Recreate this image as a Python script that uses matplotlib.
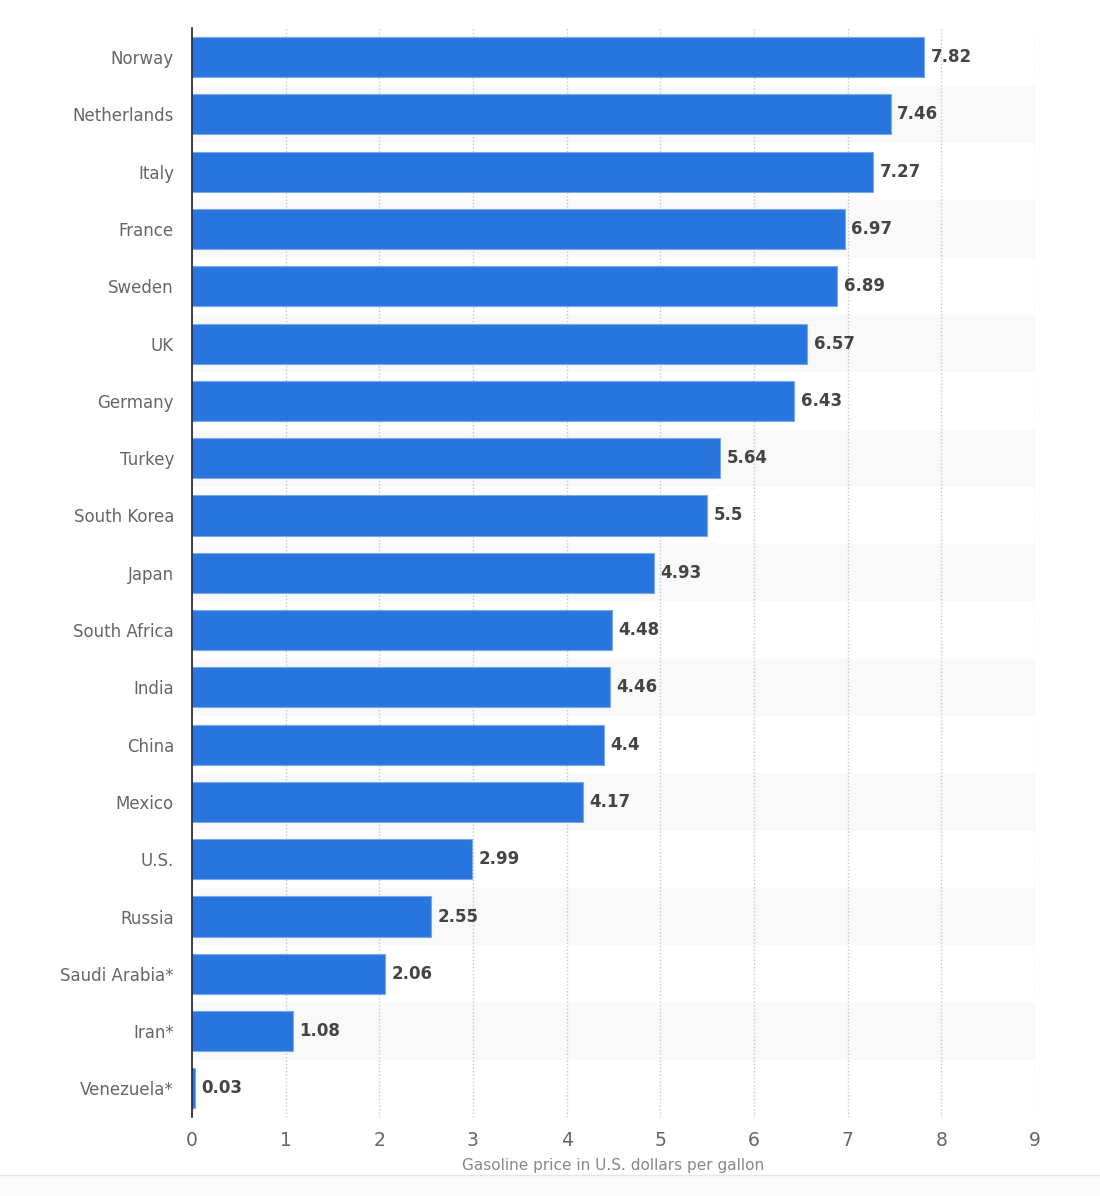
import matplotlib.pyplot as plt
import matplotlib.ticker as mticker
import numpy as np

countries = ["Norway", "Netherlands", "Italy", "France", "Sweden", "UK",
             "Germany", "Turkey", "South Korea", "Japan", "South Africa",
             "India", "China", "Mexico", "U.S.", "Russia", "Saudi Arabia*",
             "Iran*", "Venezuela*"]
prices = [7.82, 7.46, 7.27, 6.97, 6.89, 6.57, 6.43, 5.64, 5.5, 4.93, 4.48,
          4.46, 4.4, 4.17, 2.99, 2.55, 2.06, 1.08, 0.03]
price_labels = ["7.82", "7.46", "7.27", "6.97", "6.89", "6.57", "6.43",
                "5.64", "5.5", "4.93", "4.48", "4.46", "4.4", "4.17",
                "2.99", "2.55", "2.06", "1.08", "0.03"]
x_ticks = [0, 1, 2, 3, 4, 5, 6, 7, 8, 9]

bar_color = "#2876dd"

fig = plt.figure(figsize=(11, 11.96), dpi=100)
ax = fig.add_axes([0.1745, 0.066, 0.7664, 0.9102])

y = np.arange(len(countries))

# alternating row stripes
for i in y:
    if i % 2 == 1:
        ax.axhspan(i - 0.5, i + 0.5, xmin=0, xmax=1, color="#f9f9f9",
                   zorder=0, lw=0)

ax.barh(y, prices, height=0.7, color=bar_color, edgecolor="#7aa9ea",
        linewidth=0.8, zorder=3)

for yi, v, lab in zip(y, prices, price_labels):
    ax.text(v + 0.07, yi, lab, va="center", ha="left", fontsize=12,
            fontweight="bold", color="#444444", zorder=4)

ax.set_xlim(0, 9)
ax.set_ylim(len(countries) - 0.5, -0.5)
ax.set_xticks(x_ticks)
ax.xaxis.set_major_formatter(mticker.FormatStrFormatter("%d"))
ax.set_yticks(y)
ax.set_yticklabels(countries)

ax.grid(axis="x", color="#c8c8c8", linestyle=(0, (1, 1.5)), linewidth=1,
        zorder=1)
ax.set_axisbelow(True)

for s in ["top", "right", "bottom"]:
    ax.spines[s].set_visible(False)
ax.spines["left"].set_color("#222222")
ax.spines["left"].set_linewidth(1.2)
ax.spines["left"].set_zorder(5)

ax.tick_params(axis="y", length=0, pad=13, labelsize=12,
               labelcolor="#666666")
ax.tick_params(axis="x", length=0, pad=10, labelsize=13.5,
               labelcolor="#666666")

ax.set_xlabel("Gasoline price in U.S. dollars per gallon", fontsize=11,
              color="#888888", labelpad=6)

# faint strip at the bottom of the frame
fig.add_artist(plt.Rectangle((0, 0), 1, 21 / 1196, transform=fig.transFigure,
                             color="#fbfbfb", lw=0))
fig.add_artist(plt.Line2D([0, 1], [21 / 1196, 21 / 1196],
                          transform=fig.transFigure, color="#e6e6e6", lw=1))

fig.savefig("out.png", dpi=100)
